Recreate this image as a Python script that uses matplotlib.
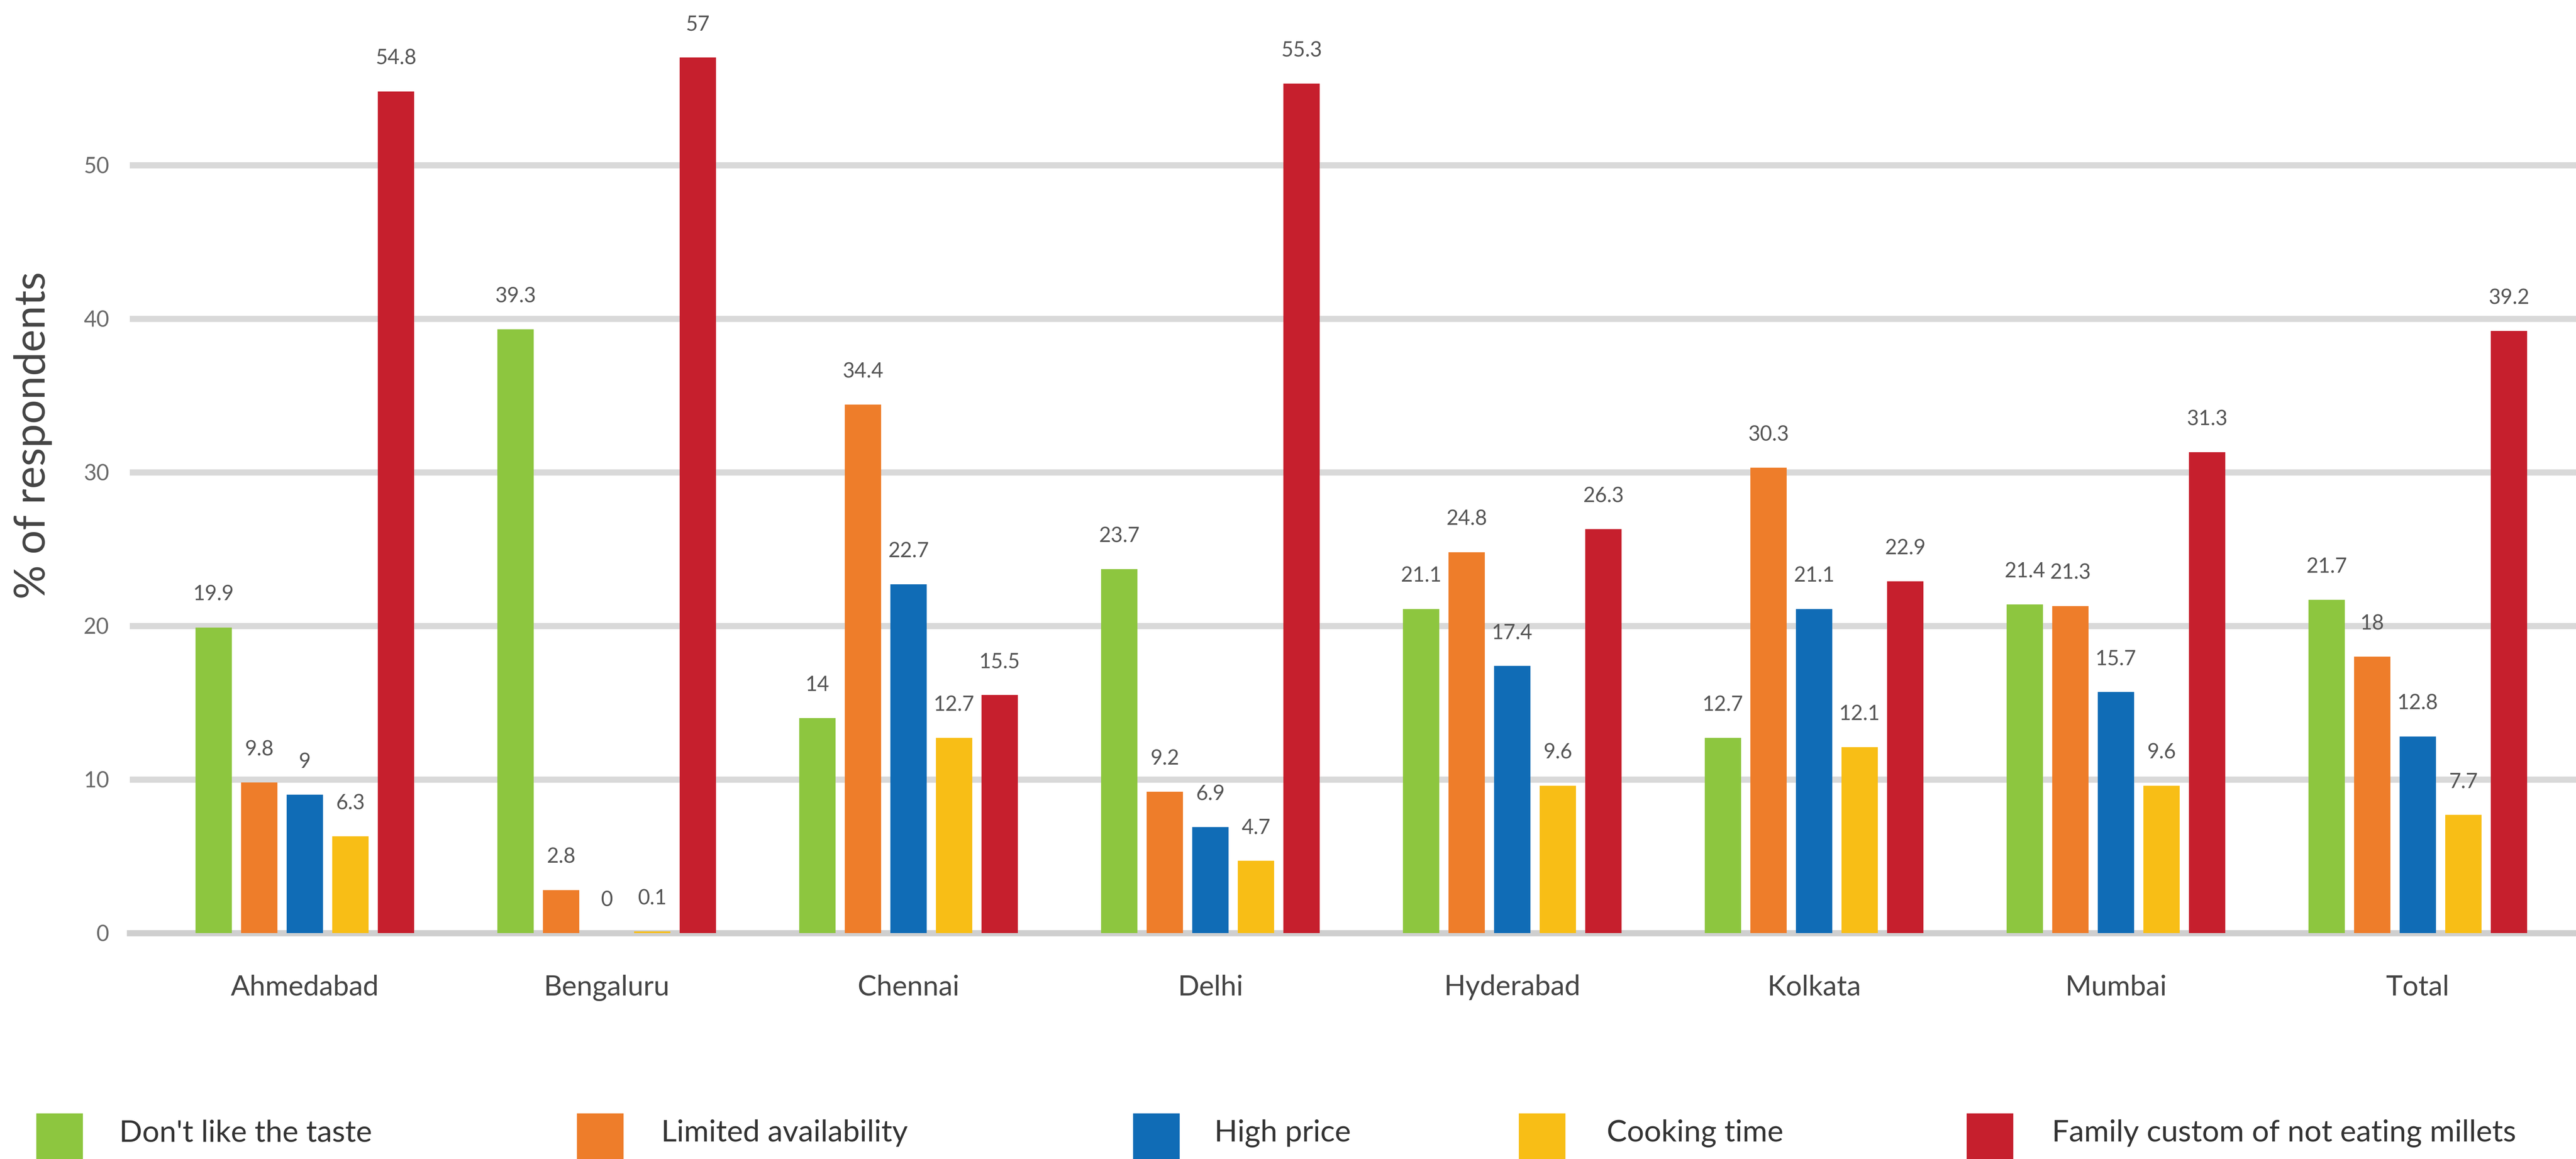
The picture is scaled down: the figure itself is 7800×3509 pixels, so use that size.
import matplotlib.pyplot as plt
from matplotlib.patches import Rectangle
import numpy as np

# =====================================================
# DATA
# =====================================================

cities = [
    "Ahmedabad", "Bengaluru", "Chennai", "Delhi",
    "Hyderabad", "Kolkata", "Mumbai", "Total"
]

reasons = [
    "Don't like the taste",
    "Limited availability",
    "High price",
    "Cooking time",
    "Family custom of not eating millets"
]

taste = [19.9, 39.3, 14, 23.7, 21.1, 12.7, 21.4, 21.7]
availability = [9.8, 2.8, 34.4, 9.2, 24.8, 30.3, 21.3, 18]
price = [9, 0, 22.7, 6.9, 17.4, 21.1, 15.7, 12.8]
cooking = [6.3, 0.1, 12.7, 4.7, 9.6, 12.1, 9.6, 7.7]
custom = [54.8, 57, 15.5, 55.3, 26.3, 22.9, 31.3, 39.2]

series = [taste, availability, price, cooking, custom]

colors = ["#8dc63f", "#ee7d2a", "#106cb6", "#f8be16", "#c61f2d"]

# =====================================================
# FIGURE
# =====================================================

plt.rcParams["font.family"] = ["Lato", "DejaVu Sans"]

W, H = 7800, 3509
fig = plt.figure(figsize=(26, H / 300), dpi=300)

ax = fig.add_axes([393 / W, 1 - 2825 / H, 1 - 393 / W, 2825 / H])

x = np.arange(len(cities))
width = 0.12
step = 0.151

for i, (vals, col) in enumerate(zip(series, colors)):
    pos = x + (i - 2) * step
    bars = ax.bar(pos, vals, width=width, color=col, zorder=3)
    for b, v in zip(bars, vals):
        ax.annotate(
            f"{v:g}",
            (b.get_x() + b.get_width() / 2, v),
            xytext=(0, 17), textcoords="offset points",
            ha="center", va="bottom",
            fontsize=15, color="#555555"
        )

ax.set_xlim(-0.58, 7.524)
ax.set_ylim(0, 60.75)

ax.set_yticks([0, 10, 20, 30, 40, 50])
ax.set_xticks(x)
ax.set_xticklabels(cities)

ax.grid(axis="y", color="#d9d9d9", linewidth=4.5, zorder=0)
ax.tick_params(axis="y", length=0, pad=15, labelsize=16, labelcolor="#6a6a6a")
ax.tick_params(axis="x", length=0, pad=30, labelsize=20.5, labelcolor="#444444")

for s in ["top", "right", "left"]:
    ax.spines[s].set_visible(False)
ax.spines["bottom"].set_color("#cfcfcf")
ax.spines["bottom"].set_linewidth(4.5)

fig.text(100 / W, 1 - 1318 / H, "% of respondents",
         rotation=90, ha="center", va="center",
         fontsize=31, color="#444444")

# =====================================================
# LEGEND (patches run off the bottom edge)
# =====================================================

patch_x = [112, 1749, 3433, 4601, 5957]
text_x = [361, 2002, 3677, 4865, 6213]

for px, tx, col, lab in zip(patch_x, text_x, colors, reasons):
    fig.patches.append(Rectangle(
        (px / W, 0), 137 / W, (H - 3373) / H,
        transform=fig.transFigure, color=col, clip_on=False
    ))
    fig.text(tx / W, 1 - 3431 / H, lab,
             ha="left", va="center", fontsize=22, color="#333333")

fig.savefig("out.png", dpi=300)
